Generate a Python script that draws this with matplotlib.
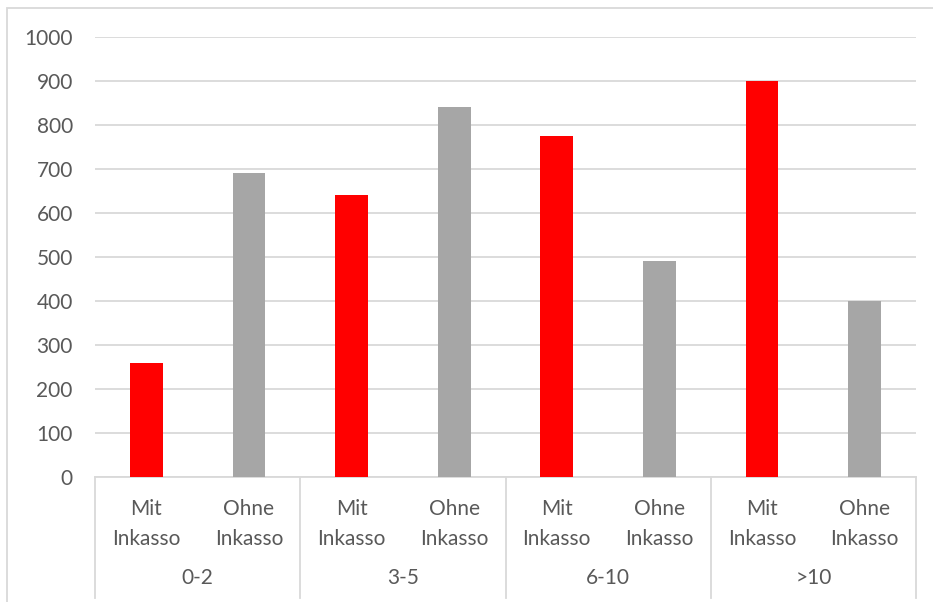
import matplotlib.pyplot as plt
from matplotlib.patches import Rectangle
from matplotlib.transforms import blended_transform_factory

plt.rcParams['font.family'] = ['Lato', 'DejaVu Sans']

groups = ['0-2', '3-5', '6-10', '>10']
sub_labels = ['Mit\nInkasso', 'Ohne\nInkasso']
mit_inkasso = [260, 640, 775, 900]
ohne_inkasso = [690, 840, 490, 400]

text_color = '#595959'
grid_color = '#d9d9d9'
fs = 15

fig = plt.figure(figsize=(9.33, 6.02), dpi=100)
W, H = 933, 602
ax = fig.add_axes([95 / W, (H - 477) / H, (916 - 95) / W, (477 - 37) / H])

# interleave the two series: Mit, Ohne per group
values = []
colors = []
for m, o in zip(mit_inkasso, ohne_inkasso):
    values += [m, o]
    colors += ['#ff0000', '#a6a6a6']
x = list(range(len(values)))
ax.bar(x, values, width=0.32, color=colors, zorder=3)

ax.set_xlim(-0.5, len(values) - 0.5)
ax.set_ylim(0, 1000)
ax.set_yticks(range(0, 1001, 100))
ax.grid(axis='y', color=grid_color, linewidth=1.3, zorder=0)
for s in ['top', 'right', 'left']:
    ax.spines[s].set_visible(False)
ax.spines['bottom'].set_color(grid_color)
ax.spines['bottom'].set_linewidth(1.3)
ax.tick_params(axis='y', length=0, pad=16, labelsize=fs, labelcolor=text_color)
ax.tick_params(axis='x', length=0, pad=16, labelsize=fs, labelcolor=text_color)
ax.set_xticks(x)
ax.set_xticklabels(sub_labels * len(groups), linespacing=1.6)

# group labels and separators of the two-level category axis
trans = blended_transform_factory(ax.transData, ax.transAxes)
for i, g in enumerate(groups):
    ax.text(2 * i + 0.5, -0.23, g, transform=trans, ha='center', va='center',
            fontsize=fs, color=text_color)
for b in range(len(groups) + 1):
    ax.plot([2 * b - 0.5, 2 * b - 0.5], [0, -0.275], transform=trans,
            color=grid_color, linewidth=1.3, clip_on=False)

# chart border
fig.patches.append(Rectangle((7 / W, -0.01), 1, 1 - 8 / H + 0.01, transform=fig.transFigure,
                             fill=False, edgecolor=grid_color, linewidth=1.3))

fig.savefig('out.png', dpi=100)
